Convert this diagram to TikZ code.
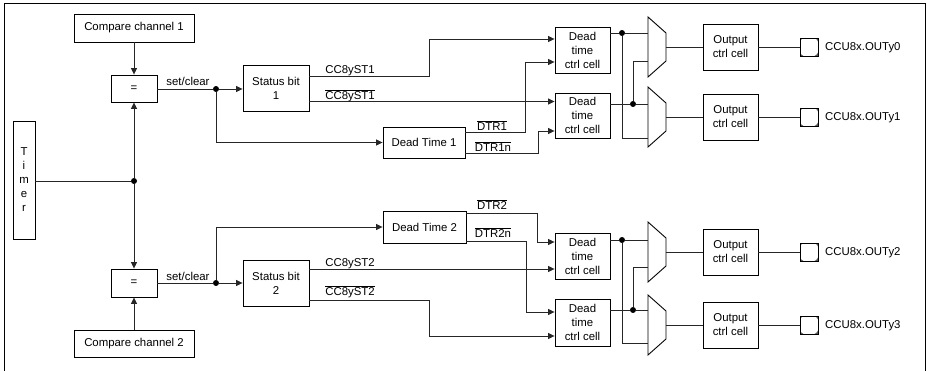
\documentclass[tikz,border=0pt]{standalone}
\usepackage{fontspec}
\setmainfont{Liberation Sans}
\usetikzlibrary{arrows.meta}
\begin{document}
\begin{tikzpicture}[x=1pt,y=-1pt,
  txt/.style={font=\fontsize{11.4}{14}\selectfont},
  box/.style={txt,draw,line width=0.9pt,inner sep=0pt,align=center},
  cell/.style={box,minimum width=55pt,minimum height=46pt},
  ocell/.style={box,minimum width=55pt,minimum height=46pt},
  wire/.style={line width=0.75pt,draw=black!85},
  arr/.style={wire,-{Triangle[length=6.5pt,width=6pt]}},
  dot/.style={circle,fill=black,inner sep=0pt,minimum size=6pt},
  lbl/.style={txt,inner sep=0pt,anchor=base},
  olbl/.style={txt,inner sep=0pt,anchor=base west},
  pad/.style={draw,line width=0.9pt,minimum size=18pt,inner sep=0pt,
    path picture={
      \fill[black!65] (path picture bounding box.south west) rectangle (path picture bounding box.north east);
      \fill[white] (path picture bounding box.center) circle (10.6pt);}},
  mux/.pic={\draw[line width=0.9pt] (0,-30) -- (18,-14) -- (18,14) -- (0,30) -- cycle;
    \coordinate (-in) at (0,0); \coordinate (-out) at (18,0);}]
\useasboundingbox (0,0) rectangle (927,371);
% frame
\draw[line width=0.9pt] (4,371) -- (4,3) -- (925,3) -- (925,371);

% ---------- left part ----------
\node[box,minimum width=120pt,minimum height=28pt] (cmp1) at (134,28) {Compare channel 1};
\node[box,minimum width=46pt,minimum height=27pt] (eq1) at (134,88.5) {=};
\node[box,minimum width=66pt,minimum height=46pt] (st1) at (276,88) {Status bit\\1};
\node[box,minimum width=22pt,minimum height=118pt] (timer) at (24,180) {T\\i\\m\\e\\r};
\node[box,minimum width=82pt,minimum height=31pt] (dt1) at (424,142.5) {Dead Time 1};

\node[box,minimum width=120pt,minimum height=27pt] (cmp2) at (134,343.5) {Compare channel 2};
\node[box,minimum width=46pt,minimum height=28pt] (eq2) at (134,283) {=};
\node[box,minimum width=66pt,minimum height=46pt] (st2) at (276,283) {Status bit\\2};
\node[box,minimum width=83pt,minimum height=32pt] (dt2) at (424.5,227) {Dead Time 2};

% ---------- dead time ctrl cells ----------
\node[cell] (dc1) at (582.5,50) {Dead\\time\\ctrl cell};
\node[cell,minimum height=45pt] (dc2) at (582.5,115.5) {Dead\\time\\ctrl cell};
\node[cell] (dc3) at (582.5,256) {Dead\\time\\ctrl cell};
\node[cell,minimum height=47pt] (dc4) at (582.5,322.5) {Dead\\time\\ctrl cell};

% ---------- muxes ----------
\pic (m1) at (648,47) {mux};
\pic (m2) at (648,117) {mux};
\pic (m3) at (648,252) {mux};
\pic (m4) at (648,325) {mux};

% ---------- output cells and pads ----------
\node[ocell] (oc1) at (730.5,47) {Output\\ctrl cell};
\node[ocell] (oc2) at (730.5,117) {Output\\ctrl cell};
\node[ocell] (oc3) at (730.5,252) {Output\\ctrl cell};
\node[ocell] (oc4) at (730.5,325) {Output\\ctrl cell};
\node[pad] (p1) at (809,47) {};
\node[pad] (p2) at (809,117) {};
\node[pad] (p3) at (809,252) {};
\node[pad] (p4) at (809,325) {};
\node[olbl] (o1) at (825,51) {CCU8x.OUTy0};
\node[olbl] (o2) at (825,121) {CCU8x.OUTy1};
\node[olbl] (o3) at (825,256) {CCU8x.OUTy2};
\node[olbl] (o4) at (825,329) {CCU8x.OUTy3};

% ---------- timer and comparators ----------
\node[dot] (j0) at (134,181) {};
\draw[wire] (timer.east |- j0) -- (j0);
\draw[arr] (j0) -- (eq1.south);
\draw[arr] (j0) -- (eq2.north);
\draw[arr] (cmp1) -- (eq1);
\draw[arr] (cmp2) -- (eq2);

% ---------- top half ----------
\node[dot] (s1) at (216,89) {};
\draw[wire] (eq1.east |- s1) -- (s1);
\draw[arr] (s1) -- (st1.west |- s1);
\draw[arr] (s1) |- (dt1.west);
\node[lbl] (sc1) at (188,85.5) {set/clear};

\draw[arr] (st1.east |- 0,76) -- (429,76) -- (429,39) -- (dc1.west |- 0,39);
\draw[arr] (st1.east |- 0,101.5) -- (dc2.west |- 0,101.5);
\draw[arr] (dt1.east |- 0,132) -- (525,132) -- (525,62) -- (dc1.west |- 0,62);
\draw[arr] (dt1.east |- 0,153) -- (538,153) -- (538,131) -- (dc2.west |- 0,131);
\node[lbl] (l1) at (350,74) {CC8yST1};
\node[lbl] (l2) at (350,100) {$\overline{\mbox{CC8yST1}}$};
\node[lbl] (l3) at (492,130.5) {$\overline{\mbox{DTR1}}$};
\node[lbl] (l4) at (493,151.5) {$\overline{\mbox{DTR1n}}$};

\node[dot] (d1) at (622,33) {};
\node[dot] (d2) at (633,104) {};
\draw[wire] (dc1.east |- d1) -- (d1) -- (m1-in |- d1);
\draw[wire] (d1) -- (622,138) -- (m2-in |- 0,138);
\draw[wire] (dc2.east |- d2) -- (d2) -- (m2-in |- d2);
\draw[wire] (d2) -- (633,61) -- (m1-in |- 0,61);

% ---------- bottom half ----------
\node[dot] (s2) at (216,283) {};
\draw[wire] (eq2.east |- s2) -- (s2);
\draw[arr] (s2) -- (st2.west |- s2);
\draw[arr] (s2) |- (dt2.west);
\node[lbl] (sc2) at (188,280.5) {set/clear};

\draw[arr] (st2.east |- 0,269) -- (dc3.west |- 0,269);
\draw[arr] (st2.east |- 0,300) -- (429,300) -- (429,336) -- (dc4.west |- 0,336);
\draw[arr] (dt2.east |- 0,213) -- (537,213) -- (537,242) -- (dc3.west |- 0,242);
\draw[arr] (dt2.east |- 0,241) -- (526,241) -- (526,312) -- (dc4.west |- 0,312);
\node[lbl] (l5) at (350,267) {CC8yST2};
\node[lbl] (l6) at (350,296) {$\overline{\mbox{CC8yST2}}$};
\node[lbl] (l7) at (492,209.5) {$\overline{\mbox{DTR2}}$};
\node[lbl] (l8) at (493,237.5) {$\overline{\mbox{DTR2n}}$};

\node[dot] (d3) at (622,240) {};
\node[dot] (d4) at (633,310) {};
\draw[wire] (dc3.east |- d3) -- (d3) -- (m3-in |- d3);
\draw[wire] (d3) -- (622,343) -- (m4-in |- 0,343);
\draw[wire] (dc4.east |- d4) -- (d4) -- (m4-in |- d4);
\draw[wire] (d4) -- (633,267) -- (m3-in |- 0,267);

% ---------- outputs ----------
\draw[wire] (m1-out) -- (oc1.west);
\draw[wire] (m2-out) -- (oc2.west);
\draw[wire] (m3-out) -- (oc3.west);
\draw[wire] (m4-out) -- (oc4.west);
\draw[wire] (oc1.east) -- (p1.west);
\draw[wire] (oc2.east) -- (p2.west);
\draw[wire] (oc3.east) -- (p3.west);
\draw[wire] (oc4.east) -- (p4.west);
\end{tikzpicture}
\end{document}
